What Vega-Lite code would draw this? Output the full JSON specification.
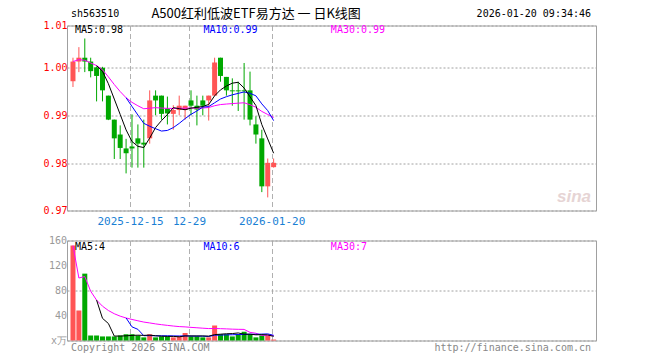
{
  "$schema": "https://vega.github.io/schema/vega-lite/v6.json",
  "padding": {"left": 42, "top": 7.5, "right": 5, "bottom": 5},
  "background": "white",
  "bounds": "flush",
  "spacing": 30,
  "config": {
    "view": {"stroke": "#a0a0a0", "strokeWidth": 1},
    "axis": {"labelFont": "DejaVu Sans Mono", "labelFontSize": 10, "ticks": false, "tickSize": 0, "domain": false, "labelOverlap": false}
  },
  "datasets": {
    "k": [
      {"idx": 0, "date": "2025-12-01", "open": 0.9972, "high": 1.0021, "low": 0.9960, "close": 1.0013, "vol": 152},
      {"idx": 1, "date": "2025-12-02", "open": 1.0013, "high": 1.0043, "low": 0.9991, "close": 1.0021, "vol": 48},
      {"idx": 2, "date": "2025-12-03", "open": 1.0021, "high": 1.0061, "low": 0.9991, "close": 1.0013, "vol": 107},
      {"idx": 3, "date": "2025-12-04", "open": 1.0013, "high": 1.0021, "low": 0.9980, "close": 0.9993, "vol": 8},
      {"idx": 4, "date": "2025-12-05", "open": 1.0001, "high": 1.0003, "low": 0.9930, "close": 0.9983, "vol": 8},
      {"idx": 5, "date": "2025-12-08", "open": 1.0000, "high": 1.0002, "low": 0.9930, "close": 0.9953, "vol": 6.5},
      {"idx": 6, "date": "2025-12-09", "open": 0.9942, "high": 0.9942, "low": 0.9891, "close": 0.9892, "vol": 6.5},
      {"idx": 7, "date": "2025-12-10", "open": 0.9892, "high": 0.9892, "low": 0.9810, "close": 0.9853, "vol": 6.5},
      {"idx": 8, "date": "2025-12-11", "open": 0.9861, "high": 0.9880, "low": 0.9810, "close": 0.9833, "vol": 8},
      {"idx": 9, "date": "2025-12-12", "open": 0.9832, "high": 0.9852, "low": 0.9780, "close": 0.9822, "vol": 10},
      {"idx": 10, "date": "2025-12-15", "open": 0.9836, "high": 0.9903, "low": 0.9792, "close": 0.9832, "vol": 10},
      {"idx": 11, "date": "2025-12-16", "open": 0.9853, "high": 0.9882, "low": 0.9792, "close": 0.9842, "vol": 8},
      {"idx": 12, "date": "2025-12-17", "open": 0.9844, "high": 0.9892, "low": 0.9792, "close": 0.9840, "vol": 5},
      {"idx": 13, "date": "2025-12-18", "open": 0.9853, "high": 0.9953, "low": 0.9842, "close": 0.9932, "vol": 10},
      {"idx": 14, "date": "2025-12-19", "open": 0.9942, "high": 0.9953, "low": 0.9901, "close": 0.9932, "vol": 5},
      {"idx": 15, "date": "2025-12-22", "open": 0.9942, "high": 0.9942, "low": 0.9892, "close": 0.9904, "vol": 6.5},
      {"idx": 16, "date": "2025-12-23", "open": 0.9915, "high": 0.9940, "low": 0.9882, "close": 0.9905, "vol": 6.5},
      {"idx": 17, "date": "2025-12-24", "open": 0.9904, "high": 0.9922, "low": 0.9871, "close": 0.9912, "vol": 5},
      {"idx": 18, "date": "2025-12-25", "open": 0.9912, "high": 0.9942, "low": 0.9901, "close": 0.9921, "vol": 6.5},
      {"idx": 19, "date": "2025-12-26", "open": 0.9912, "high": 0.9921, "low": 0.9892, "close": 0.9921, "vol": 12},
      {"idx": 20, "date": "2025-12-29", "open": 0.9932, "high": 0.9953, "low": 0.9901, "close": 0.9921, "vol": 6.5},
      {"idx": 21, "date": "2025-12-30", "open": 0.9921, "high": 0.9942, "low": 0.9880, "close": 0.9913, "vol": 6.5},
      {"idx": 22, "date": "2025-12-31", "open": 0.9932, "high": 0.9942, "low": 0.9901, "close": 0.9921, "vol": 5},
      {"idx": 23, "date": "2026-01-05", "open": 0.9932, "high": 0.9942, "low": 0.9890, "close": 0.9942, "vol": 5},
      {"idx": 24, "date": "2026-01-06", "open": 0.9942, "high": 1.0021, "low": 0.9942, "close": 1.0011, "vol": 24},
      {"idx": 25, "date": "2026-01-07", "open": 1.0021, "high": 1.0021, "low": 0.9971, "close": 0.9983, "vol": 10},
      {"idx": 26, "date": "2026-01-08", "open": 0.9981, "high": 0.9981, "low": 0.9942, "close": 0.9953, "vol": 10},
      {"idx": 27, "date": "2026-01-09", "open": 0.9953, "high": 0.9978, "low": 0.9921, "close": 0.9951, "vol": 6.5},
      {"idx": 28, "date": "2026-01-12", "open": 0.9953, "high": 0.9971, "low": 0.9910, "close": 0.9951, "vol": 10},
      {"idx": 29, "date": "2026-01-13", "open": 0.9953, "high": 1.0010, "low": 0.9892, "close": 0.9951, "vol": 14},
      {"idx": 30, "date": "2026-01-14", "open": 0.9953, "high": 0.9992, "low": 0.9880, "close": 0.9892, "vol": 10},
      {"idx": 31, "date": "2026-01-15", "open": 0.9882, "high": 0.9899, "low": 0.9842, "close": 0.9861, "vol": 5},
      {"idx": 32, "date": "2026-01-16", "open": 0.9853, "high": 0.9871, "low": 0.9741, "close": 0.9753, "vol": 8},
      {"idx": 33, "date": "2026-01-19", "open": 0.9753, "high": 0.9811, "low": 0.9730, "close": 0.9802, "vol": 8},
      {"idx": 34, "date": "2026-01-20", "open": 0.9793, "high": 0.9811, "low": 0.9792, "close": 0.9802, "vol": 1.5}
    ],
    "volTicks": [
      {"v": 160, "t": "160"},
      {"v": 120, "t": "120"},
      {"v": 80, "t": "80"},
      {"v": 40, "t": "40"},
      {"v": 0, "t": "x万"}
    ]
  },
  "vconcat": [
    {
      "width": 529,
      "height": 185,
      "layer": [
        {
          "data": {"name": "k"},
          "mark": {"type": "rule", "strokeWidth": 1},
          "encoding": {
            "x": {"field": "idx", "type": "quantitative", "title": null,
              "scale": {"domain": [-0.166, 87.78], "nice": false, "zero": false},
              "axis": {"values": [9.67, 19.67, 33.67], "labelExpr": "datum.value < 10 ? '2025-12-15' : datum.value < 20 ? '12-29' : '2026-01-20'", "grid": true, "gridDash": [5, 3], "gridColor": "#b0b0b0", "labelColor": "#1a7fd4", "labelFontSize": 11, "labelPadding": 5, "labelFlush": false, "labelOverlap": false}},
            "y": {"field": "low", "type": "quantitative", "title": null,
              "scale": {"domain": [0.97027, 1.00881], "nice": false, "zero": false},
              "axis": {"values": [0.97027, 0.98, 0.99, 1.0, 1.00881], "format": ".2f", "grid": true, "gridDash": [2, 2], "gridColor": "#a0a0a0", "labelColor": "#ff0000", "labelPadding": 0, "labelOverlap": false}},
            "y2": {"field": "high"},
            "color": {"condition": {"test": "datum.close > datum.open", "value": "#ff5555"}, "value": "#00a800"}
          }
        },
        {
          "data": {"name": "k"},
          "mark": {"type": "bar", "width": 5},
          "encoding": {
            "x": {"field": "idx", "type": "quantitative"},
            "y": {"field": "open", "type": "quantitative"},
            "y2": {"field": "close"},
            "color": {"condition": {"test": "datum.close > datum.open", "value": "#ff5555"}, "value": "#00a800"}
          }
        },
        {
          "data": {"name": "k"},
          "transform": [
            {"window": [{"op": "mean", "field": "close", "as": "ma30"}], "frame": [-29, 0], "sort": [{"field": "idx"}]}
          ],
          "mark": {"type": "line", "color": "#ff00ff", "strokeWidth": 1},
          "encoding": {"x": {"field": "idx", "type": "quantitative"}, "y": {"field": "ma30", "type": "quantitative"}}
        },
        {
          "data": {"name": "k"},
          "transform": [
            {"window": [{"op": "mean", "field": "close", "as": "ma10"}], "frame": [-9, 0], "sort": [{"field": "idx"}]},
            {"filter": "datum.idx >= 9"}
          ],
          "mark": {"type": "line", "color": "#0000ff", "strokeWidth": 1},
          "encoding": {"x": {"field": "idx", "type": "quantitative"}, "y": {"field": "ma10", "type": "quantitative"}}
        },
        {
          "data": {"name": "k"},
          "transform": [
            {"window": [{"op": "mean", "field": "close", "as": "ma5"}], "frame": [-4, 0], "sort": [{"field": "idx"}]},
            {"filter": "datum.idx >= 4"}
          ],
          "mark": {"type": "line", "color": "#000000", "strokeWidth": 1},
          "encoding": {"x": {"field": "idx", "type": "quantitative"}, "y": {"field": "ma5", "type": "quantitative"}}
        },
        {
          "data": {"values": [{"t": "sh563510"}]},
          "mark": {"type": "text", "align": "left", "baseline": "middle", "font": "DejaVu Sans Mono", "fontSize": 10, "color": "#000000"},
          "encoding": {"x": {"datum": -0.332, "type": "quantitative"}, "y": {"datum": 1.0112, "type": "quantitative"}, "text": {"field": "t"}}
        },
        {
          "data": {"values": [{"t": "A500红利低波ETF易方达 一 日K线图"}]},
          "mark": {"type": "text", "align": "left", "baseline": "middle", "font": "Noto Sans CJK SC", "fontSize": 13, "color": "#000000"},
          "encoding": {"x": {"datum": 13.3, "type": "quantitative"}, "y": {"datum": 1.0112, "type": "quantitative"}, "text": {"field": "t"}}
        },
        {
          "data": {"values": [{"t": "2026-01-20 09:34:46"}]},
          "mark": {"type": "text", "align": "right", "baseline": "middle", "font": "DejaVu Sans Mono", "fontSize": 10, "color": "#000000"},
          "encoding": {"x": {"datum": 87.78, "type": "quantitative"}, "y": {"datum": 1.0112, "type": "quantitative"}, "text": {"field": "t"}}
        },
        {
          "data": {"values": [{"t": "MA5:0.98"}]},
          "mark": {"type": "text", "align": "left", "baseline": "middle", "font": "DejaVu Sans Mono", "fontSize": 10, "color": "#000000"},
          "encoding": {"x": {"datum": 0.33, "type": "quantitative"}, "y": {"datum": 1.0078, "type": "quantitative"}, "text": {"field": "t"}}
        },
        {
          "data": {"values": [{"t": "MA10:0.99"}]},
          "mark": {"type": "text", "align": "left", "baseline": "middle", "font": "DejaVu Sans Mono", "fontSize": 10, "color": "#0000ff"},
          "encoding": {"x": {"datum": 22.1, "type": "quantitative"}, "y": {"datum": 1.0078, "type": "quantitative"}, "text": {"field": "t"}}
        },
        {
          "data": {"values": [{"t": "MA30:0.99"}]},
          "mark": {"type": "text", "align": "left", "baseline": "middle", "font": "DejaVu Sans Mono", "fontSize": 10, "color": "#ff00ff"},
          "encoding": {"x": {"datum": 43.7, "type": "quantitative"}, "y": {"datum": 1.0078, "type": "quantitative"}, "text": {"field": "t"}}
        },
        {
          "data": {"values": [{"t": "sina"}]},
          "mark": {"type": "text", "align": "center", "baseline": "middle", "font": "Liberation Sans", "fontSize": 17, "fontStyle": "italic", "fontWeight": "bold", "color": "#e6d4d4"},
          "encoding": {"x": {"datum": 84.9, "type": "quantitative"}, "y": {"datum": 0.9730, "type": "quantitative"}, "text": {"field": "t"}}
        }
      ]
    },
    {
      "width": 529,
      "height": 100,
      "layer": [
        {
          "data": {"name": "k"},
          "mark": {"type": "bar", "width": 5},
          "encoding": {
            "x": {"field": "idx", "type": "quantitative", "title": null,
              "scale": {"domain": [-0.166, 87.78], "nice": false, "zero": false},
              "axis": {"values": [9.67, 19.67, 33.67], "labels": false, "grid": true, "gridDash": [5, 3], "gridColor": "#b0b0b0"}},
            "y": {"field": "vol", "type": "quantitative", "title": null,
              "scale": {"domain": [0, 160], "nice": false},
              "axis": {"values": [0, 40, 80, 120, 160], "labels": false, "grid": true, "gridDash": [2, 2], "gridColor": "#a0a0a0"}},
            "color": {"condition": {"test": "datum.close > datum.open", "value": "#ff5555"}, "value": "#00a800"}
          }
        },
        {
          "data": {"name": "k"},
          "transform": [
            {"window": [{"op": "mean", "field": "vol", "as": "v30"}], "frame": [-29, 0], "sort": [{"field": "idx"}]}
          ],
          "mark": {"type": "line", "color": "#ff00ff", "strokeWidth": 1},
          "encoding": {"x": {"field": "idx", "type": "quantitative"}, "y": {"field": "v30", "type": "quantitative"}}
        },
        {
          "data": {"name": "k"},
          "transform": [
            {"window": [{"op": "mean", "field": "vol", "as": "v10"}], "frame": [-9, 0], "sort": [{"field": "idx"}]},
            {"filter": "datum.idx >= 9"}
          ],
          "mark": {"type": "line", "color": "#0000ff", "strokeWidth": 1},
          "encoding": {"x": {"field": "idx", "type": "quantitative"}, "y": {"field": "v10", "type": "quantitative"}}
        },
        {
          "data": {"name": "k"},
          "transform": [
            {"window": [{"op": "mean", "field": "vol", "as": "v5"}], "frame": [-4, 0], "sort": [{"field": "idx"}]},
            {"filter": "datum.idx >= 4"}
          ],
          "mark": {"type": "line", "color": "#000000", "strokeWidth": 1},
          "encoding": {"x": {"field": "idx", "type": "quantitative"}, "y": {"field": "v5", "type": "quantitative"}}
        },
        {
          "data": {"name": "volTicks"},
          "mark": {"type": "text", "align": "right", "baseline": "middle", "font": "DejaVu Sans Mono", "fontSize": 10, "color": "#999999"},
          "encoding": {"x": {"datum": -0.997, "type": "quantitative"}, "y": {"field": "v", "type": "quantitative"}, "text": {"field": "t"}}
        },
        {
          "data": {"values": [{"t": "MA5:4"}]},
          "mark": {"type": "text", "align": "left", "baseline": "middle", "font": "DejaVu Sans Mono", "fontSize": 10, "color": "#000000"},
          "encoding": {"x": {"datum": 0.33, "type": "quantitative"}, "y": {"datum": 150, "type": "quantitative"}, "text": {"field": "t"}}
        },
        {
          "data": {"values": [{"t": "MA10:6"}]},
          "mark": {"type": "text", "align": "left", "baseline": "middle", "font": "DejaVu Sans Mono", "fontSize": 10, "color": "#0000ff"},
          "encoding": {"x": {"datum": 22.1, "type": "quantitative"}, "y": {"datum": 150, "type": "quantitative"}, "text": {"field": "t"}}
        },
        {
          "data": {"values": [{"t": "MA30:7"}]},
          "mark": {"type": "text", "align": "left", "baseline": "middle", "font": "DejaVu Sans Mono", "fontSize": 10, "color": "#ff00ff"},
          "encoding": {"x": {"datum": 43.7, "type": "quantitative"}, "y": {"datum": 150, "type": "quantitative"}, "text": {"field": "t"}}
        },
        {
          "data": {"values": [{"t": "Copyright 2026 SINA.COM"}]},
          "mark": {"type": "text", "align": "left", "baseline": "middle", "font": "DejaVu Sans Mono", "fontSize": 10, "color": "#888888"},
          "encoding": {"x": {"datum": -0.33, "type": "quantitative"}, "y": {"datum": -12.5, "type": "quantitative"}, "text": {"field": "t"}}
        },
        {
          "data": {"values": [{"t": "http://finance.sina.com.cn"}]},
          "mark": {"type": "text", "align": "right", "baseline": "middle", "font": "DejaVu Sans Mono", "fontSize": 10, "color": "#888888"},
          "encoding": {"x": {"datum": 87.78, "type": "quantitative"}, "y": {"datum": -12.5, "type": "quantitative"}, "text": {"field": "t"}}
        }
      ]
    }
  ]
}
